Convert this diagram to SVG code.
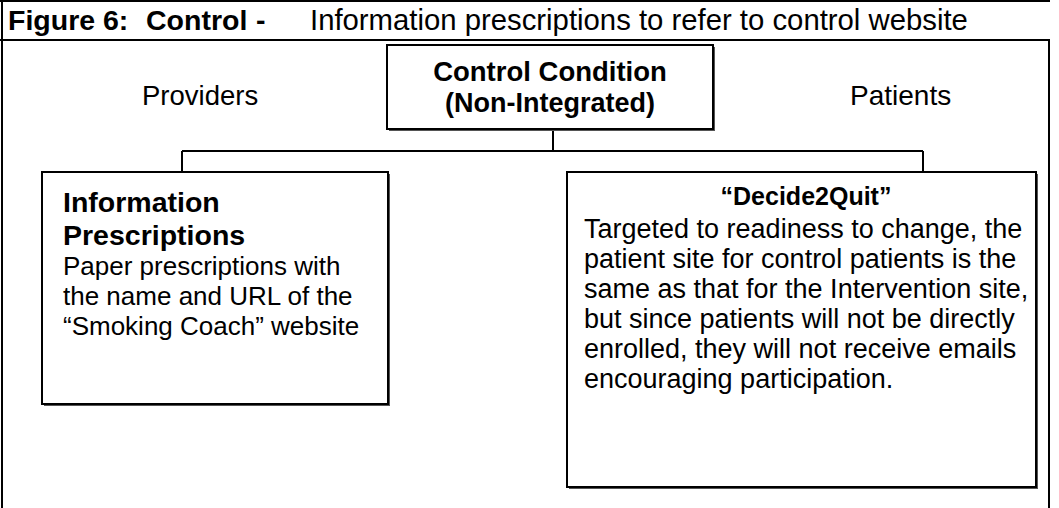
<svg xmlns="http://www.w3.org/2000/svg" width="1059" height="508" viewBox="0 0 1059 508">
<style>
text{font-family:"Liberation Sans",Arial,sans-serif;fill:#000}
.t{font-size:27px}
.s{font-size:26px}
.b{font-weight:bold}
.box{fill:#fff;stroke:#000;stroke-width:2}
.sh{fill:#555}
.ln{stroke:#000;stroke-width:2;fill:none}
</style>
<g id="frame">
<path class="ln" d="M0,1 H1050 M2,0 V508 M0,40 H1050 M1049,40 V508"/>
</g>
<g id="title">
<text style="font-size:28.5px" y="30"><tspan class="b" x="8">Figure 6:</tspan><tspan class="b" x="146">Control</tspan><tspan class="b" x="256">-</tspan><tspan style="font-size:29.3px" x="310">Information prescriptions to refer to control website</tspan></text>
</g>
<g id="providers"><text style="font-size:27.5px" x="142" y="105">Providers</text></g>
<g id="patients"><text style="font-size:28px" x="850" y="105">Patients</text></g>
<g id="connectors">
<path class="ln" d="M553,129 V151 M182,151 H923 M182,151 V172 M923,151 V172"/>
</g>
<g id="control">
<rect class="sh" x="389" y="47" width="326" height="84"/>
<rect class="box" x="387" y="45" width="326" height="84"/>
<text class="b" style="font-size:27.5px" x="550" y="81" text-anchor="middle">Control Condition</text>
<text class="t b" x="550" y="112" text-anchor="middle">(Non-Integrated)</text>
</g>
<g id="info">
<rect class="sh" x="44" y="174" width="346" height="232"/>
<rect class="box" x="42" y="172" width="346" height="232"/>
<text class="b" style="font-size:28.5px" x="63" y="212">Information</text>
<text class="b" style="font-size:28.5px" x="63" y="245">Prescriptions</text>
<text class="s" x="63" y="275">Paper prescriptions with</text>
<text class="s" x="63" y="305">the name and URL of the</text>
<text class="s" x="63" y="335">“Smoking Coach” website</text>
</g>
<g id="decide">
<rect class="sh" x="569" y="174" width="469" height="315"/>
<rect class="box" x="567" y="172" width="469" height="315"/>
<text class="b" style="font-size:25px" x="806" y="205" text-anchor="middle">“Decide2Quit”</text>
<text class="t" x="584" y="238">Targeted to readiness to change, the</text>
<text class="t" x="584" y="268">patient site for control patients is the</text>
<text class="t" x="584" y="298">same as that for the Intervention site,</text>
<text class="t" x="584" y="328">but since patients will not be directly</text>
<text class="t" x="584" y="358">enrolled, they will not receive emails</text>
<text class="t" x="584" y="388">encouraging participation.</text>
</g>
</svg>
